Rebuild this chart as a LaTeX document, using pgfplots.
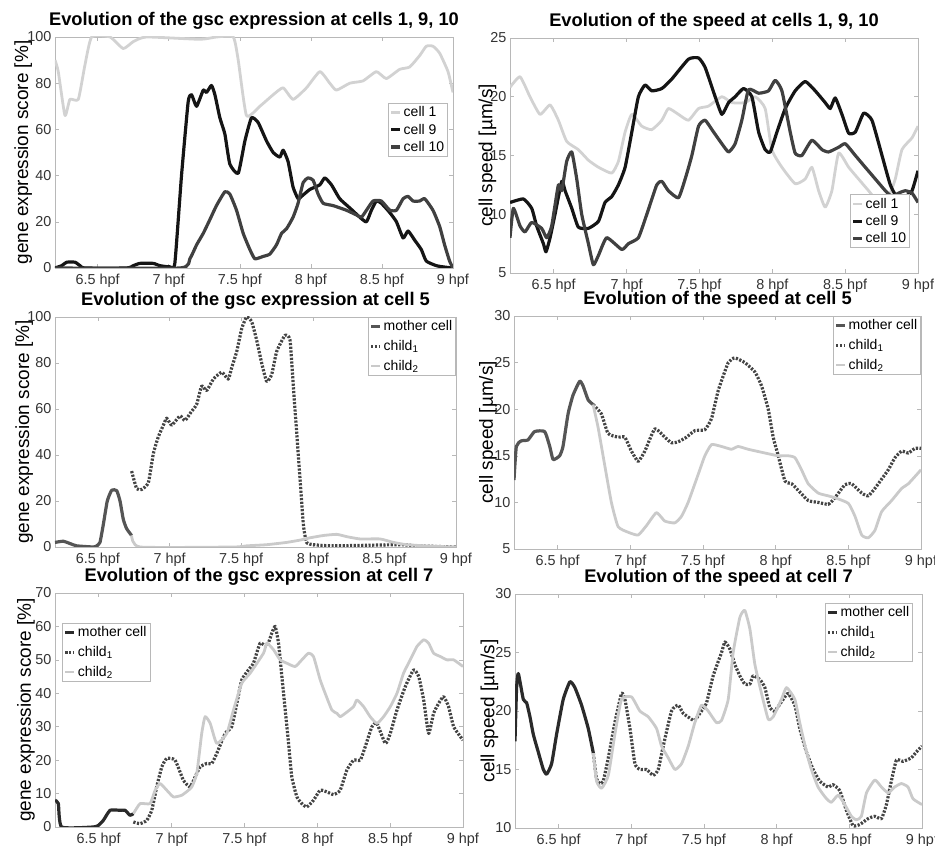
\documentclass[border=0pt]{standalone}
\usepackage{pgfplots}
\pgfplotsset{compat=1.18}
\usepackage{fontspec}
\setmainfont{Liberation Sans}
\definecolor{cOne}{HTML}{D2D2D2}
\definecolor{cNine}{HTML}{151515}
\definecolor{cTen}{HTML}{404040}
\definecolor{mom}{HTML}{555555}
\definecolor{momdark}{HTML}{2A2A2A}
\definecolor{chOne}{HTML}{444444}
\definecolor{chTwo}{HTML}{CACACA}
\definecolor{frame}{HTML}{B8B8B8}
\definecolor{ticktext}{HTML}{333333}
\pgfplotsset{
 panel/.style={
  scale only axis, anchor=south west,
  xmin=6.2, xmax=9,
  xtick={6.5,7,7.5,8,8.5,9},
  xticklabels={6.5 hpf,7 hpf,7.5 hpf,8 hpf,8.5 hpf,9 hpf},
  tick align=inside, major tick length=4pt,
  xtick pos=both, ytick pos=both,
  tick style={frame, line width=0.5pt},
  axis line style={frame, line width=0.6pt},
  /pgf/number format/assume math mode=true,
  tick label style={font=\fontsize{14.4}{16}\selectfont, text=ticktext},
  xticklabel style={inner sep=1pt, yshift=-4.5pt},
  title style={font=\bfseries\fontsize{18.3}{20}\selectfont, inner sep=1pt, yshift=0pt},
  every axis y label/.style={rotate=90, anchor=center, font=\fontsize{19}{22}\selectfont},
  legend style={draw=frame, line width=0.6pt, font=\fontsize{14}{16}\selectfont, inner sep=1.5pt, row sep=1.5pt, cells={anchor=west}},
  legend image code/.code={\draw[#1] (0pt,0pt) -- (9pt,0pt);},
  every axis plot/.append style={line width=3.2pt, line join=round},
 },
 kids/.style={legend style={row sep=4pt}},
 lightline/.style={cOne, line width=2.8pt},
 dotline/.style={chOne, dash pattern=on 2.2pt off 1.5pt},
}
\begin{document}
\begin{tikzpicture}
\useasboundingbox (0,0) rectangle (935pt,846pt);
% ---------------- Panel 1 ----------------
\begin{axis}[panel, at={(55pt,578pt)}, width=398pt, height=231pt,
  ymin=0, ymax=100, ytick={0,20,40,60,80,100},
  title={Evolution of the gsc expression at cells 1, 9, 10},
  ylabel={gene expression score [\%]},
  ylabel style={at={(axis description cs:-0.080,0.5)}},
  legend style={at={(1,1)}, anchor=north east, xshift=-5pt, yshift=-66pt}]
\addplot[lightline, smooth, tension=0.3] coordinates {
(6.200,90) (6.223,85) (6.270,66) (6.305,73) (6.364,73) (6.411,88) (6.458,100) (6.587,100) (6.680,95) (6.751,98) (6.844,100) (7.219,99) (7.336,100) (7.454,100) (7.489,90) (7.547,66) (7.641,70) (7.735,75) (7.805,78) (7.875,73) (7.969,78) (8.063,85) (8.133,80) (8.180,77) (8.274,80) (8.367,81) (8.461,85) (8.531,82) (8.625,86) (8.695,87) (8.766,92) (8.812,96) (8.859,96) (8.906,93) (8.965,85) (9.000,76)};
\addplot[cNine, smooth, tension=0.3] coordinates {
(6.200,0) (6.247,1) (6.282,2.5) (6.341,2.5) (6.376,1) (6.411,0) (6.704,0) (6.751,1) (6.797,2) (6.891,2) (6.938,1) (7.008,0.5) (7.043,2) (7.090,40) (7.137,72) (7.161,75) (7.196,70) (7.243,77) (7.266,76) (7.301,79) (7.325,75) (7.360,65) (7.395,58) (7.430,45) (7.489,41) (7.536,55) (7.582,65) (7.629,63) (7.688,55) (7.735,50) (7.782,48) (7.805,51) (7.840,46) (7.875,35) (7.910,30) (7.934,31) (7.993,34) (8.063,36) (8.098,39) (8.145,36) (8.203,30) (8.274,26) (8.344,22) (8.391,20) (8.426,25) (8.461,29) (8.496,28) (8.555,24) (8.602,20) (8.649,13) (8.684,16) (8.731,12) (8.777,8) (8.812,3) (8.883,1) (8.953,0.3) (9.000,0)};
\addplot[cTen, smooth, tension=0.3] coordinates {
(6.200,0) (7.079,0) (7.149,4) (7.196,10) (7.243,15) (7.290,21) (7.336,27) (7.395,33) (7.430,32) (7.477,25) (7.524,15) (7.571,8) (7.606,4) (7.664,5) (7.711,6) (7.758,10) (7.794,15) (7.829,17) (7.875,22) (7.910,28) (7.946,37) (7.981,39) (8.016,38) (8.051,32) (8.087,28) (8.157,27) (8.250,25) (8.320,23) (8.356,22) (8.391,25) (8.438,29) (8.496,29) (8.555,25) (8.602,25) (8.649,30) (8.684,31) (8.719,29) (8.766,29) (8.801,30) (8.859,25) (8.906,18) (8.941,10) (8.976,3) (9.000,0)};
\legend{cell 1, cell 9, cell 10}
\end{axis}
% ---------------- Panel 2 ----------------
\begin{axis}[panel, at={(510pt,573pt)}, width=408pt, height=235pt,
  ymin=5, ymax=25, ytick={5,10,15,20,25},
  title={Evolution of the speed at cells 1, 9, 10},
  ylabel={cell speed [µm/s]},
  ylabel style={at={(axis description cs:-0.055,0.5)}},
  legend style={at={(1,0)}, anchor=south east, xshift=-8pt, yshift=25pt}]
\addplot[lightline, smooth, tension=0.3] coordinates {
(6.200,20.8) (6.269,21.7) (6.337,20) (6.406,18.5) (6.475,19.3) (6.532,18) (6.589,16.2) (6.669,15.5) (6.738,14.6) (6.807,14) (6.898,13.5) (6.944,14.5) (6.990,17) (7.036,18.5) (7.104,17.5) (7.173,17.2) (7.242,18) (7.287,19) (7.356,18.5) (7.425,18) (7.494,19) (7.562,19.2) (7.654,20) (7.722,19.5) (7.814,19.5) (7.883,20) (7.951,19) (7.997,15.5) (8.066,14) (8.157,12.6) (8.226,13) (8.272,14) (8.318,12) (8.363,10.6) (8.409,12) (8.455,15.2) (8.524,14) (8.592,13) (8.661,12) (8.730,11) (8.798,11.5) (8.844,13) (8.890,15.5) (8.959,16.5) (9.000,17.5)};
\addplot[cNine, smooth, tension=0.3] coordinates {
(6.200,11) (6.292,11.3) (6.349,10.5) (6.383,9) (6.429,7.5) (6.447,6.8) (6.475,8) (6.509,10) (6.555,12.8) (6.578,12) (6.624,10.5) (6.669,8.9) (6.738,8.8) (6.807,9.4) (6.852,11) (6.898,11.5) (6.944,12.5) (6.990,14) (7.036,17) (7.081,20) (7.127,21) (7.173,20.5) (7.242,20.7) (7.310,21.5) (7.425,23.2) (7.494,23.3) (7.539,22.5) (7.608,20) (7.654,18.5) (7.700,19.5) (7.745,20) (7.803,20.7) (7.860,20) (7.906,17) (7.951,15.5) (7.986,15.3) (8.032,17) (8.089,19) (8.157,20.5) (8.226,21.3) (8.295,20.5) (8.363,19.5) (8.398,19) (8.432,19.9) (8.478,18.5) (8.524,16.9) (8.570,17) (8.627,18.6) (8.684,18) (8.753,15) (8.810,12.5) (8.867,11.2) (8.913,11.5) (8.959,12) (9.000,13.7)};
\addplot[cTen, smooth, tension=0.3] coordinates {
(6.200,8) (6.223,10.5) (6.269,9) (6.303,8.5) (6.349,9.3) (6.417,8.8) (6.452,8) (6.486,9) (6.532,12.5) (6.555,12) (6.589,14.5) (6.624,15.3) (6.658,13) (6.692,10) (6.738,7.5) (6.772,5.7) (6.807,6.5) (6.864,8) (6.967,7) (7.013,7.5) (7.081,8) (7.139,10) (7.207,12.5) (7.242,12.8) (7.287,12) (7.356,11.4) (7.402,13) (7.448,15) (7.494,17.5) (7.539,18) (7.597,17) (7.654,16) (7.700,15.3) (7.745,16) (7.791,18) (7.837,20.6) (7.906,20.3) (7.974,20.5) (8.020,21.4) (8.066,20.5) (8.123,17) (8.157,15.2) (8.203,15) (8.272,16.3) (8.341,15.5) (8.386,15.3) (8.455,15.7) (8.501,16) (8.570,15) (8.638,14) (8.707,13) (8.776,12) (8.822,11.5) (8.867,11.8) (8.913,12) (8.959,11.8) (9.000,11)};
\legend{cell 1, cell 9, cell 10}
\end{axis}
% ---------------- Panel 3 ----------------
\begin{axis}[panel, kids, at={(55pt,299pt)}, width=401pt, height=230pt,
  ymin=0, ymax=100, ytick={0,20,40,60,80,100},
  title={Evolution of the gsc expression at cell 5},
  ylabel={gene expression score [\%]},
  ylabel style={at={(axis description cs:-0.077,0.5)}},
  legend style={at={(1,1)}, anchor=north east}]
\addplot[mom, smooth, tension=0.3] coordinates {
(6.200,2) (6.258,2.5) (6.305,1.5) (6.351,0.5) (6.468,0) (6.491,0.5) (6.514,2) (6.538,10) (6.565,20) (6.596,24.7) (6.631,24.5) (6.654,20) (6.677,12) (6.700,8) (6.735,5)};
\addplot[dotline, smooth, tension=0.3] coordinates {
(6.735,33) (6.770,25.4) (6.805,25) (6.852,28) (6.887,40.7) (6.922,48) (6.957,53) (6.980,56) (7.015,53) (7.073,57) (7.108,55) (7.154,59) (7.189,62) (7.224,70) (7.259,68) (7.306,73) (7.364,76) (7.410,73) (7.434,78) (7.469,85) (7.504,95) (7.538,100) (7.573,98) (7.608,90) (7.643,80) (7.678,72) (7.713,75) (7.748,85) (7.806,92) (7.841,90) (7.864,70) (7.899,40) (7.934,10) (7.957,2) (8.004,1) (8.144,0.5) (8.609,1) (8.726,0.5) (9.000,0)};
\addplot[chTwo, line width=2.8pt, smooth, tension=0.3] coordinates {
(6.735,5) (6.794,0) (7.445,0) (7.538,0.5) (7.678,1) (7.818,2) (7.911,3) (7.981,4) (8.074,5) (8.167,5.5) (8.237,4.5) (8.330,3.5) (8.470,3.5) (8.563,2) (8.656,1) (8.842,0.3) (9.000,0)};
\legend{mother cell, child\textsubscript{1}, child\textsubscript{2}}
\end{axis}
% ---------------- Panel 4 ----------------
\begin{axis}[panel, kids, at={(514pt,297pt)}, width=407pt, height=233pt,
  ymin=5, ymax=30, ytick={5,10,15,20,25,30},
  title={Evolution of the speed at cell 5},
  ylabel={cell speed [µm/s]},
  ylabel style={at={(axis description cs:-0.064,0.5)}},
  legend style={at={(1,1)}, anchor=north east}]
\addplot[mom, smooth, tension=0.3] coordinates {
(6.200,12.4) (6.216,16) (6.250,16.6) (6.296,16.7) (6.342,17.6) (6.411,17.6) (6.446,16) (6.469,14.6) (6.514,15) (6.537,16) (6.572,19.5) (6.606,21.5) (6.652,23) (6.675,22.5) (6.710,21) (6.744,20.5)};
\addplot[dotline, smooth, tension=0.3] coordinates {
(6.744,20.5) (6.801,19.5) (6.847,17.4) (6.916,17) (6.962,17) (7.008,15.5) (7.054,14.4) (7.100,15.5) (7.169,17.9) (7.237,17) (7.283,16.4) (7.329,16.5) (7.387,17) (7.444,17.7) (7.513,17.8) (7.559,19) (7.605,22) (7.674,25) (7.719,25.5) (7.788,25) (7.857,24) (7.903,22.5) (7.949,20) (7.983,17) (8.018,15) (8.064,12.3) (8.110,12) (8.155,11.3) (8.224,10.2) (8.293,10) (8.362,9.8) (8.408,10.5) (8.477,11.9) (8.523,12) (8.592,11) (8.637,10.7) (8.683,11.5) (8.729,12.5) (8.775,13.5) (8.821,14.8) (8.867,15.5) (8.913,15.3) (8.959,15.8) (9.000,15.8)};
\addplot[chTwo, line width=2.8pt, smooth, tension=0.3] coordinates {
(6.744,20.5) (6.779,18) (6.824,14) (6.870,10) (6.916,7.4) (6.985,6.8) (7.054,6.5) (7.111,7.5) (7.180,8.9) (7.237,8) (7.306,7.8) (7.352,8.5) (7.398,10) (7.467,13) (7.513,15) (7.559,16.2) (7.628,16) (7.696,15.7) (7.742,16) (7.811,15.7) (7.926,15.3) (8.018,15) (8.087,15) (8.133,14.8) (8.178,13.5) (8.224,12) (8.293,11) (8.362,10.7) (8.408,10.5) (8.500,9.9) (8.546,8.5) (8.592,6.5) (8.637,6.2) (8.683,7) (8.729,9) (8.798,10.2) (8.867,11.5) (8.913,12) (9.000,13.5)};
\legend{mother cell, child\textsubscript{1}, child\textsubscript{2}}
\end{axis}
% ---------------- Panel 5 ----------------
\begin{axis}[panel, kids, at={(55pt,19pt)}, width=408pt, height=234pt,
  ymin=0, ymax=70, ytick={0,10,20,30,40,50,60,70},
  title={Evolution of the gsc expression at cell 7},
  ylabel={gene expression score [\%]},
  ylabel style={at={(axis description cs:-0.071,0.5)}},
  legend style={at={(0,1)}, anchor=north west, xshift=7pt, yshift=-30pt}]
\addplot[momdark, smooth, tension=0.3] coordinates {
(6.200,8) (6.223,7) (6.246,0) (6.463,0) (6.498,0.5) (6.532,2) (6.578,5) (6.646,5) (6.681,5) (6.715,3.5) (6.738,4)};
\addplot[dotline, smooth, tension=0.3] coordinates {
(6.738,1.5) (6.784,1) (6.830,2) (6.864,5) (6.898,12) (6.933,18) (6.967,20.5) (7.024,20) (7.081,14) (7.127,12) (7.162,15) (7.196,18) (7.242,19) (7.276,19) (7.310,22) (7.368,28) (7.413,30) (7.448,37) (7.482,44) (7.528,47) (7.562,49) (7.608,55) (7.654,54) (7.688,58) (7.711,60) (7.734,55) (7.757,45) (7.780,35) (7.803,25) (7.825,15) (7.860,9) (7.894,7) (7.928,6) (7.974,8) (8.020,11) (8.066,10.5) (8.112,9.7) (8.157,11) (8.203,17) (8.249,20) (8.295,20) (8.329,24) (8.375,30) (8.409,31) (8.467,25) (8.501,28) (8.547,35) (8.604,42) (8.661,47) (8.696,45) (8.730,38) (8.764,28) (8.798,34) (8.833,37) (8.867,39) (8.901,36) (8.936,30) (9.000,26)};
\addplot[chTwo, line width=2.8pt, smooth, tension=0.3] coordinates {
(6.738,4) (6.784,7) (6.852,7) (6.887,11) (6.921,13) (6.967,11) (7.013,9) (7.070,9.5) (7.116,11) (7.139,12) (7.173,16) (7.207,28) (7.230,33) (7.265,31) (7.310,25) (7.379,28) (7.425,35) (7.482,43) (7.539,46) (7.631,52) (7.654,55) (7.700,53) (7.745,50) (7.791,49) (7.848,48) (7.894,50) (7.940,52) (7.974,51) (8.020,44) (8.054,40) (8.100,35) (8.135,34) (8.157,33) (8.192,34) (8.249,36) (8.272,38) (8.318,36) (8.363,33) (8.409,31) (8.455,33) (8.501,36) (8.547,40) (8.592,46) (8.638,50) (8.684,54) (8.730,56) (8.764,55) (8.798,52) (8.844,51) (8.890,50) (8.936,50) (9.000,48)};
\legend{mother cell, child\textsubscript{1}, child\textsubscript{2}}
\end{axis}
% ---------------- Panel 6 ----------------
\begin{axis}[panel, kids, at={(515pt,18pt)}, width=407pt, height=234pt,
  ymin=10, ymax=30, ytick={10,15,20,25,30},
  title={Evolution of the speed at cell 7},
  ylabel={cell speed [µm/s]},
  ylabel style={at={(axis description cs:-0.063,0.5)}},
  legend style={at={(1,1)}, anchor=north east, xshift=-9pt, yshift=-9pt}]
\addplot[momdark, smooth, tension=0.3] coordinates {
(6.200,17.4) (6.211,22) (6.223,23.2) (6.257,21) (6.280,20.7) (6.303,19.5) (6.326,18) (6.360,16.5) (6.395,15) (6.418,14.6) (6.452,15.5) (6.486,18) (6.532,21) (6.578,22.5) (6.612,22) (6.658,20.5) (6.704,18.5) (6.739,16.4)};
\addplot[dotline, smooth, tension=0.3] coordinates {
(6.739,16.4) (6.761,14.2) (6.784,13.8) (6.807,14) (6.842,16) (6.887,19) (6.933,21.5) (6.956,21) (6.991,18.5) (7.025,15.5) (7.059,15) (7.105,15) (7.151,14.5) (7.185,15) (7.220,17) (7.277,20) (7.323,20.5) (7.357,19.8) (7.414,19.3) (7.437,19.2) (7.483,20) (7.518,20.7) (7.563,23) (7.621,25) (7.644,25.9) (7.678,25.3) (7.712,24) (7.747,23) (7.781,22.3) (7.816,22.3) (7.838,23) (7.884,22.7) (7.919,22) (7.953,20.3) (7.987,20) (8.045,21) (8.079,21.5) (8.125,20.5) (8.159,18.5) (8.205,16.5) (8.251,15) (8.297,14) (8.354,13.5) (8.388,13.7) (8.434,13.2) (8.480,11.5) (8.526,10.2) (8.572,10.3) (8.629,10.8) (8.675,11) (8.721,10.8) (8.755,12) (8.789,14) (8.824,15.8) (8.870,15.7) (8.927,16) (8.961,16.5) (9.000,17)};
\addplot[chTwo, line width=2.8pt, smooth, tension=0.3] coordinates {
(6.739,16.4) (6.761,14) (6.796,13.4) (6.842,14.5) (6.887,18) (6.933,21) (7.002,21.2) (7.059,20) (7.117,19.5) (7.174,18.5) (7.208,17) (7.254,16) (7.300,15) (7.346,15.5) (7.392,17) (7.437,19) (7.483,20.5) (7.529,20) (7.586,19) (7.621,19.2) (7.667,21) (7.701,25) (7.747,28) (7.781,28.6) (7.816,27) (7.850,24) (7.896,21.5) (7.942,19.3) (7.976,19.5) (8.033,21) (8.068,22) (8.125,21) (8.159,19) (8.205,16.5) (8.239,15) (8.285,13.5) (8.343,12.5) (8.377,12.2) (8.423,12.8) (8.469,12) (8.514,11) (8.549,10.7) (8.583,11) (8.618,13) (8.675,14.1) (8.721,13.5) (8.767,13) (8.812,13.5) (8.858,13.8) (8.904,13.5) (8.938,12.5) (9.000,12)};
\legend{mother cell, child\textsubscript{1}, child\textsubscript{2}}
\end{axis}
\end{tikzpicture}
\end{document}
